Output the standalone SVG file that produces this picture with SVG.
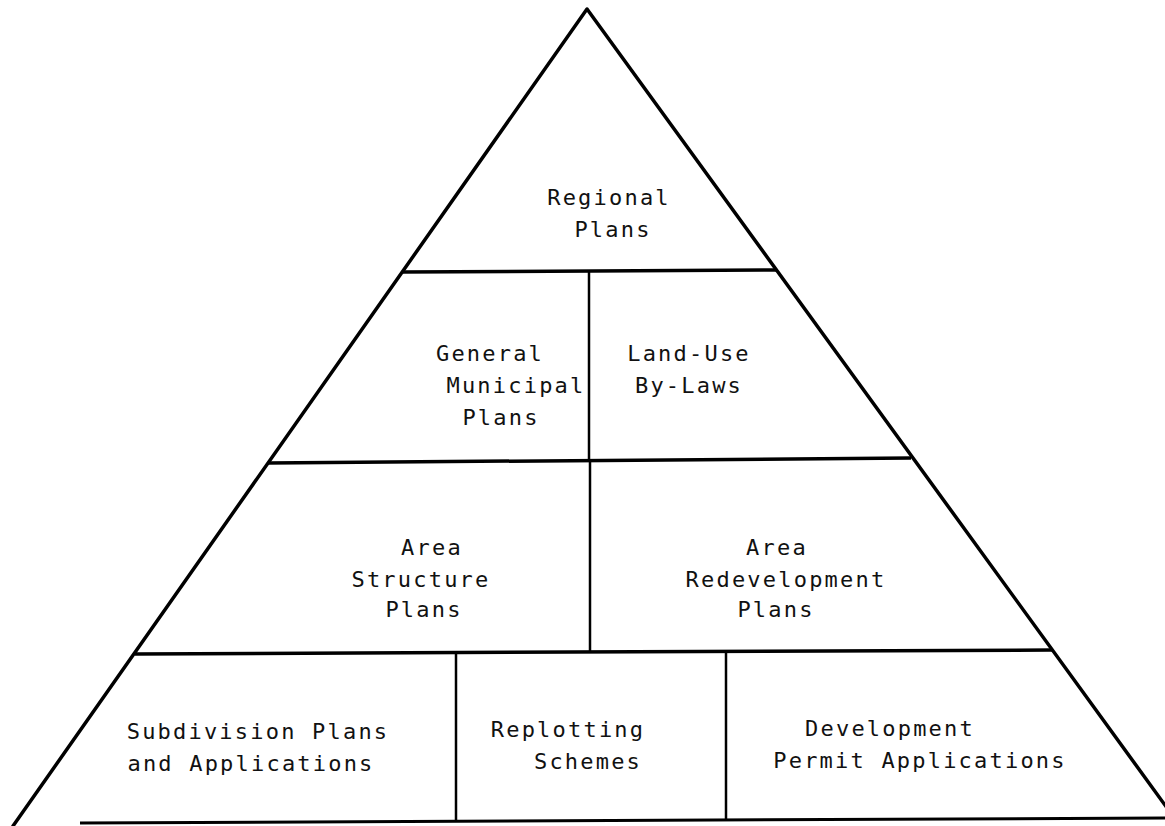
<svg xmlns="http://www.w3.org/2000/svg" width="1165" height="826" viewBox="0 0 1165 826">
  <style>
    .edge { stroke: #000; stroke-width: 3.5; fill: none; stroke-linecap: round; stroke-linejoin: round; }
    .tier { stroke: #000; stroke-width: 3.5; fill: none; }
    .div { stroke: #000; stroke-width: 2.5; fill: none; }
    .base { stroke: #000; stroke-width: 3; fill: none; }
    .lbl { font-family: "DejaVu Sans Mono", "Liberation Mono", monospace; font-size: 22px; letter-spacing: 2.2px; fill: #111; text-anchor: middle; }
  </style>
  <rect width="1165" height="826" fill="#fff"/>

  <!-- pyramid outline, tier lines and dividers -->
  <g id="connectors">
    <path class="edge" d="M13,826 L587,9 L1170,812"/>
    <line class="base" x1="80" y1="823" x2="1165" y2="818"/>
    <line class="tier" x1="402" y1="272" x2="776" y2="270"/>
    <line class="tier" x1="268" y1="463" x2="911" y2="458"/>
    <line class="tier" x1="135" y1="654" x2="1052" y2="650"/>
    <line class="div" x1="589" y1="271" x2="589" y2="462"/>
    <line class="div" x1="590" y1="461" x2="590" y2="652"/>
    <line class="div" x1="456" y1="653" x2="456" y2="821"/>
    <line class="div" x1="726" y1="652" x2="726" y2="819"/>
  </g>

  <g id="regional-plans">
    <text class="lbl" x="609" y="205">Regional</text>
    <text class="lbl" x="613" y="237">Plans</text>
  </g>

  <g id="general-municipal-plans">
    <text class="lbl" x="490" y="361">General</text>
    <text class="lbl" x="516" y="393">Municipal</text>
    <text class="lbl" x="501" y="425">Plans</text>
  </g>

  <g id="land-use-by-laws">
    <text class="lbl" x="689" y="361">Land-Use</text>
    <text class="lbl" x="689" y="393">By-Laws</text>
  </g>

  <g id="area-structure-plans">
    <text class="lbl" x="432" y="555">Area</text>
    <text class="lbl" x="421" y="587">Structure</text>
    <text class="lbl" x="424" y="617">Plans</text>
  </g>

  <g id="area-redevelopment-plans">
    <text class="lbl" x="777" y="555">Area</text>
    <text class="lbl" x="786" y="587">Redevelopment</text>
    <text class="lbl" x="776" y="617">Plans</text>
  </g>

  <g id="subdivision-plans">
    <text class="lbl" x="258" y="739">Subdivision Plans</text>
    <text class="lbl" x="251" y="771">and Applications</text>
  </g>

  <g id="replotting-schemes">
    <text class="lbl" x="568" y="737">Replotting</text>
    <text class="lbl" x="588" y="769">Schemes</text>
  </g>

  <g id="development-permit-applications">
    <text class="lbl" x="890" y="736">Development</text>
    <text class="lbl" x="920" y="768">Permit Applications</text>
  </g>
</svg>
